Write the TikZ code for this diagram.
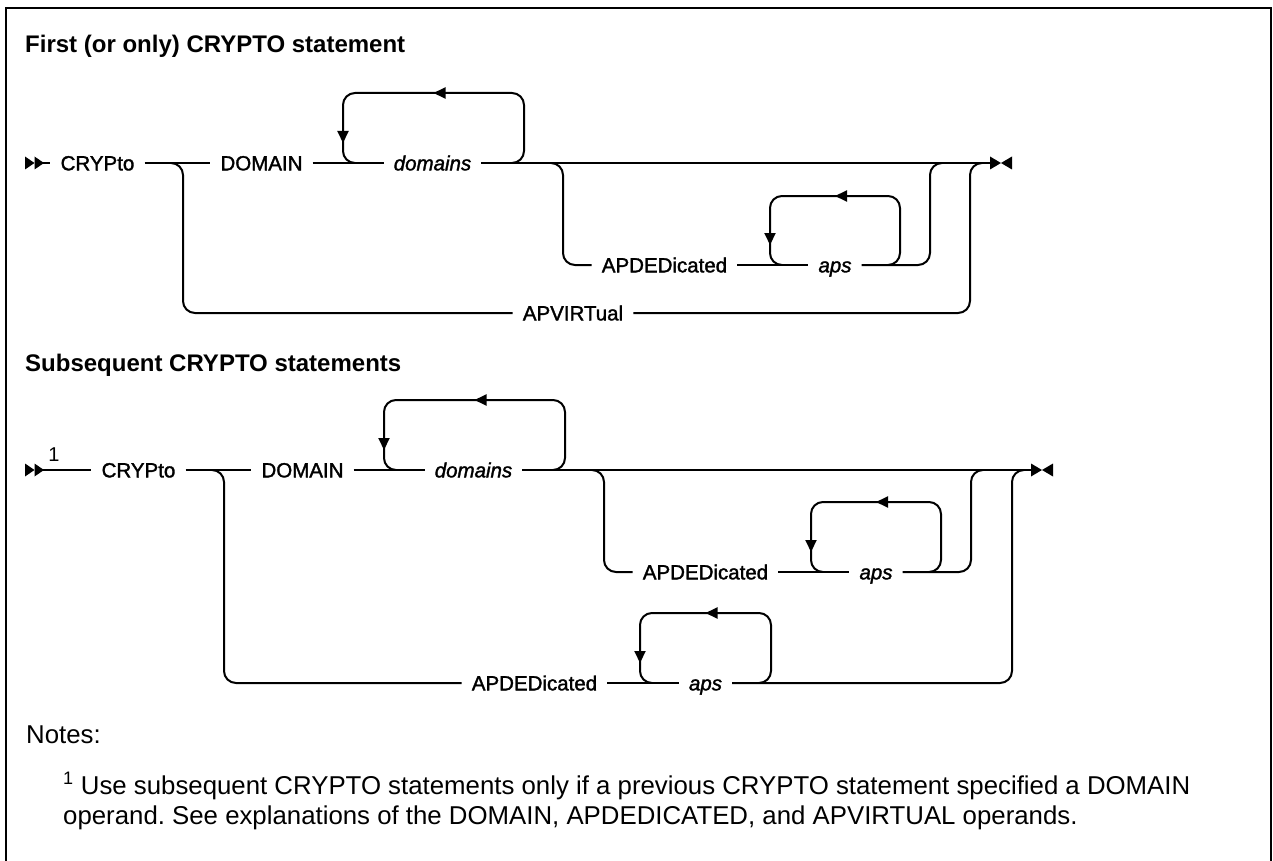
\documentclass[tikz,border=0pt]{standalone}
\usepackage{fontspec}
\setmainfont{Liberation Sans}
\newfontfamily\railfont[UprightFeatures={FakeBold=1.6}, ItalicFeatures={FakeBold=1.6}]{Liberation Sans}
\usepackage{tikz}
\usetikzlibrary{arrows.meta}
\frenchspacing

\begin{document}
\begin{tikzpicture}[
    x=1pt, y=-1pt,
    rail/.style={line width=2pt, rounded corners=12pt},
    kw/.style={font=\railfont\fontsize{20.5}{24}\selectfont,
               text height=14.7pt, text depth=0pt, inner xsep=10pt, inner ysep=0pt},
    var/.style={kw, font=\railfont\itshape\fontsize{20.5}{24}\selectfont},
    head/.style={font=\bfseries\fontsize{24}{28}\selectfont, anchor=base west, inner sep=0pt},
    note/.style={font=\fontsize{25.8}{30}\selectfont, anchor=base west, inner sep=0pt},
    looptip/.style={-{Triangle[length=12pt,width=11pt]}, line width=2pt},
]
\useasboundingbox (0,0) rectangle (1273,861);
%% -- frame --
\draw[line width=2.5pt] (6,880) |- (1271,8) -- (1271,880);

%% -- First (or only) statement --
\node[head] (head1) at (25,53) {First (or only) CRYPTO statement};
\coordinate (s1) at (43,163);
\node[kw]  (crypto1)  at (97.5,163)  {CRYPto};
\node[kw]  (domain1)  at (261.5,163) {DOMAIN};
\node[var] (domains1) at (432.5,163) {domains};
\node[kw]  (apded1)   at (664.5,265) {APDEDicated};
\node[var] (aps1)     at (835,265)   {aps};
\node[kw]  (apvirt1)  at (573,313)   {APVIRTual};
\coordinate (j1) at (183,163);
\coordinate (j2) at (563,163);
\coordinate (k1) at (930,163);
\coordinate (v1) at (970,163);
\coordinate (e1) at (990,163);
\draw[rail] (s1) -- (crypto1) (crypto1) -- (domain1) (domain1) -- (domains1) (domains1) -- (e1);
\draw[rail] ([xshift=-12pt]j1) -- (j1) |- (apvirt1.west);
\draw[rail] ([xshift=-12pt]j2) -- (j2) |- (apded1.west);
\draw[rail] (apded1) -- (aps1);
\draw[rail] (aps1.east) -| (k1) -- ([xshift=12pt]k1);
\draw[rail] (apvirt1.east) -| (v1) -- ([xshift=12pt]v1);

%% -- Subsequent statements --
\node[head] (head2) at (25,371) {Subsequent CRYPTO statements};
\coordinate (s2) at (43,470);
\node[font=\fontsize{20}{24}\selectfont, anchor=base, inner sep=0pt] (fn2) at (54,461) {1};
\node[kw]  (crypto2)  at (138.5,470) {CRYPto};
\node[kw]  (domain2)  at (302.5,470) {DOMAIN};
\node[var] (domains2) at (473.5,470) {domains};
\node[kw]  (apded2)   at (705.5,572) {APDEDicated};
\node[var] (aps2)     at (876,572)   {aps};
\node[kw]  (apded3)   at (534.5,683) {APDEDicated};
\node[var] (aps3)     at (705.5,683) {aps};
\coordinate (j3) at (224,470);
\coordinate (j4) at (604,470);
\coordinate (k2) at (971,470);
\coordinate (v2) at (1012,470);
\coordinate (e2) at (1031,470);
\draw[rail] (s2) -- (crypto2) (crypto2) -- (domain2) (domain2) -- (domains2) (domains2) -- (e2);
\draw[rail] ([xshift=-12pt]j3) -- (j3) |- (apded3.west);
\draw[rail] ([xshift=-12pt]j4) -- (j4) |- (apded2.west);
\draw[rail] (apded2) -- (aps2);
\draw[rail] (aps2.east) -| (k2) -- ([xshift=12pt]k2);
\draw[rail] (apded3) -- (aps3);
\draw[rail] (aps3.east) -| (v2) -- ([xshift=12pt]v2);

%% -- repeat loops with arrows --
\foreach \lx/\rx/\ty/\by in {343/524/93/163, 770/900/196/265,
                             384/565/400/470, 811/941/502/572, 640/771/613/683}{
  \draw[rail] (\rx-12,\by) -| (\rx,\ty) -| (\lx,\by) -- (\lx+12,\by);
  \draw[looptip] ({(\lx+\rx)/2+12},\ty) -- ({(\lx+\rx)/2},\ty);
  \draw[looptip] (\lx,\by-32) -- (\lx,\by-20);
}

%% -- start and end marks --
\foreach \y/\ex in {163/990, 470/1031}{
  \fill (25,\y-6.5) -- (34.5,\y) -- (25,\y+6.5) -- cycle;
  \fill (34.5,\y-6.5) -- (44,\y) -- (34.5,\y+6.5) -- cycle;
  \fill (\ex,\y-6.5) -- (\ex+11,\y) -- (\ex,\y+6.5) -- cycle;
  \fill (\ex+22,\y-6.5) -- (\ex+11,\y) -- (\ex+22,\y+6.5) -- cycle;
}

%% -- notes --
\node[note] (notes) at (26,743) {Notes:};
\node[note] (note1) at (63,794) {\textsuperscript{1} Use subsequent CRYPTO statements only if a previous CRYPTO statement specified a DOMAIN};
\node[note] (note2) at (63,824) {operand. See explanations of the DOMAIN, APDEDICATED, and APVIRTUAL operands.};
\end{tikzpicture}
\end{document}
